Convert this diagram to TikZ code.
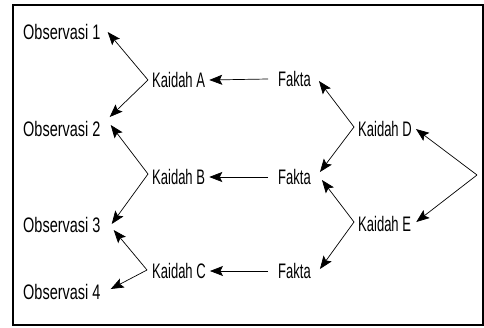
\documentclass[tikz,border=0pt]{standalone}
\usepackage{fontspec}
\setmainfont[FakeStretch=0.62]{Liberation Sans}
\newfontfamily\obsfont[FakeStretch=0.69]{Liberation Sans}
\usetikzlibrary{arrows.meta}
\begin{document}
\begin{tikzpicture}[x=1pt,y=-1pt,
  lbl/.style={inner sep=0pt, anchor=west, font=\fontsize{21}{21}\selectfont},
  obs/.style={lbl, font=\fontsize{21}{21}\obsfont},
  arr/.style={line width=0.7pt, -{Stealth[length=13pt,width=10pt,inset=2.5pt]}}]
\useasboundingbox (0,0) rectangle (484,327);
\draw[line width=2pt] (13,5) rectangle (483,325);
% observations
\node[obs] (o1) at (23,32) {Observasi 1};
\node[obs] (o2) at (23,129) {Observasi 2};
\node[obs] (o3) at (23,225) {Observasi 3};
\node[obs] (o4) at (23,292) {Observasi 4};
% rules
\node[lbl] (ka) at (152,80) {Kaidah A};
\node[lbl] (kb) at (152,177) {Kaidah B};
\node[lbl] (kc) at (152,271) {Kaidah C};
\node[lbl] (kd) at (358,129) {Kaidah D};
\node[lbl] (ke) at (358,224) {Kaidah E};
% facts
\node[lbl] (f1) at (278,79) {Fakta};
\node[lbl] (f2) at (278,177) {Fakta};
\node[lbl] (f3) at (278,271) {Fakta};
\coordinate (rv) at (477,175);
% facts to rules
\draw[arr] ([xshift=-10pt]f1.west) -- ([xshift=4pt]ka.east);
\draw[arr] ([xshift=-10pt]f2.west) -- ([xshift=4pt]kb.east);
\draw[arr] ([xshift=-10pt]f3.west) -- ([xshift=4pt]kc.east);
% rules to observations
\draw[arr] ([xshift=-4pt]ka.west) -- ([xshift=7pt]o1.east);
\draw[arr] ([xshift=-4pt]ka.west) -- ([xshift=9pt,yshift=12pt]o2.east);
\draw[arr] ([xshift=-4pt,yshift=3pt]kb.west) -- ([xshift=10pt,yshift=4pt]o2.east);
\draw[arr] ([xshift=-4pt,yshift=3pt]kb.west) -- ([xshift=11pt,yshift=1pt]o3.east);
\draw[arr] ([xshift=-5pt,yshift=1pt]kc.west) -- ([xshift=13pt,yshift=-5pt]o3.east);
\draw[arr] ([xshift=-5pt,yshift=1pt]kc.west) -- ([xshift=10pt,yshift=3pt]o4.east);
% right side
\draw[arr] ([xshift=-4pt,yshift=2pt]kd.west) -- ([xshift=8pt,yshift=-2pt]f1.east);
\draw[arr] ([xshift=-4pt,yshift=2pt]kd.west) -- ([xshift=9pt,yshift=5pt]f2.east);
\draw[arr] ([xshift=-4pt,yshift=2pt]ke.west) -- ([xshift=11pt,yshift=-3pt]f2.east);
\draw[arr] ([xshift=-4pt,yshift=2pt]ke.west) -- ([xshift=9pt,yshift=2pt]f3.east);
\draw[arr] (rv) -- ([xshift=4pt]kd.east);
\draw[arr] (rv) -- ([xshift=5pt,yshift=2pt]ke.east);
\end{tikzpicture}
\end{document}
